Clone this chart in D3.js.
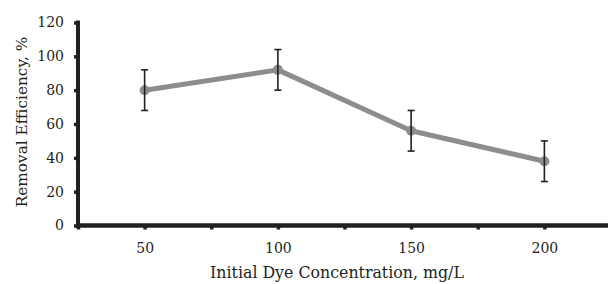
<!DOCTYPE html>
<html><head><meta charset="utf-8">
<script src="https://cdn.jsdelivr.net/npm/d3@7"></script>
<style>body{margin:0;background:#fff}svg{display:block}</style>
</head><body>
<svg id="c" width="608" height="284"></svg>
<script>
const concentrations = [50, 100, 150, 200];
const efficiency = [80, 92, 56, 38];
const errors = [12, 12, 12, 12];
const yTicks = [0, 20, 40, 60, 80, 100, 120];
const xTicks = [25, 50, 75, 100, 125, 150, 175, 200, 225];
const xLabelTicks = [50, 100, 150, 200];

const svg = d3.select("#c");
const font = "DejaVu Serif";
const ink = "#231f20";
const x = d3.scaleLinear().domain([25, 225]).range([78, 611]);
const y = d3.scaleLinear().domain([0, 120]).range([225.5, 22.5]);

// y axis
const ya = svg.append("g").attr("transform", "translate(78,0)")
  .call(d3.axisLeft(y).tickValues(yTicks).tickSize(4).tickPadding(10));
ya.select(".domain").remove();
ya.selectAll(".tick line").attr("stroke", ink).attr("stroke-width", 3.5);
ya.selectAll(".tick text").attr("font-family", font).attr("font-size", 14).attr("fill", ink);
svg.append("line").attr("x1", 78).attr("x2", 78).attr("y1", y(120) - 2).attr("y2", y(0) + 2)
  .attr("stroke", ink).attr("stroke-width", 4);

// x axis
const xa = svg.append("g").attr("transform", `translate(0,${y(0)})`)
  .call(d3.axisBottom(x).tickValues(xTicks).tickSize(4).tickPadding(14)
    .tickFormat(d => xLabelTicks.includes(d) ? d : ""));
xa.select(".domain").remove();
xa.selectAll(".tick line").attr("stroke", ink).attr("stroke-width", 3.5);
xa.selectAll(".tick text").attr("font-family", font).attr("font-size", 14).attr("fill", ink);
svg.append("line").attr("x1", 76).attr("x2", 608).attr("y1", y(0)).attr("y2", y(0))
  .attr("stroke", ink).attr("stroke-width", 4.5);

// line
const pts = concentrations.map((c, i) => ({c, v: efficiency[i], e: errors[i]}));
svg.append("path").datum(pts)
  .attr("d", d3.line().x(d => x(d.c)).y(d => y(d.v)))
  .attr("fill", "none").attr("stroke", "#8d8d8f").attr("stroke-width", 5).attr("stroke-linejoin", "round");
svg.selectAll("circle.pt").data(pts).join("circle")
  .attr("cx", d => x(d.c)).attr("cy", d => y(d.v)).attr("r", 5).attr("fill", "#8d8d8f");

// error bars
const eb = svg.selectAll("g.eb").data(pts).join("g").attr("stroke", ink).attr("stroke-width", 1.6);
eb.append("line").attr("x1", d => x(d.c)).attr("x2", d => x(d.c))
  .attr("y1", d => y(d.v + d.e)).attr("y2", d => y(d.v - d.e));
eb.append("line").attr("x1", d => x(d.c) - 3.5).attr("x2", d => x(d.c) + 3.5)
  .attr("y1", d => y(d.v + d.e)).attr("y2", d => y(d.v + d.e));
eb.append("line").attr("x1", d => x(d.c) - 3.5).attr("x2", d => x(d.c) + 3.5)
  .attr("y1", d => y(d.v - d.e)).attr("y2", d => y(d.v - d.e));

// labels
svg.append("text").attr("x", 337).attr("y", 278).attr("text-anchor", "middle")
  .attr("font-family", font).attr("font-size", 15.8).attr("fill", ink)
  .text("Initial Dye Concentration, mg/L");
svg.append("text").attr("transform", "translate(27,122) rotate(-90)").attr("text-anchor", "middle")
  .attr("font-family", font).attr("font-size", 15.3).attr("fill", ink)
  .text("Removal Efficiency, %");
</script>
</body></html>
